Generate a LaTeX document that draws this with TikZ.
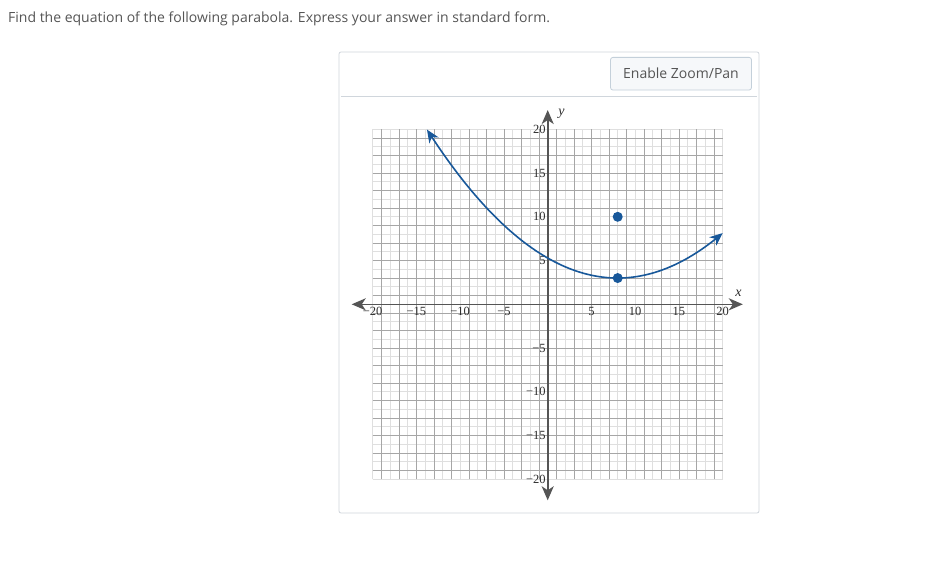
\documentclass[tikz,border=0pt]{standalone}
\usepackage{fontspec}
\setmainfont{Open Sans}
\newfontfamily\tickfont{Liberation Serif}
\usetikzlibrary{arrows.meta}
\definecolor{plotblue}{RGB}{24,88,154}
\definecolor{axisgray}{RGB}{85,85,85}
\definecolor{panelborder}{RGB}{208,214,220}
\definecolor{btnborder}{RGB}{196,208,218}
\definecolor{btnfill}{RGB}{246,248,250}
\definecolor{txtgray}{RGB}{85,85,85}
\definecolor{ticklab}{RGB}{45,45,45}
\tikzset{
  axisline/.style={axisgray, line width=1.6pt, {Stealth[length=14pt,width=12pt,inset=4pt]}-{Stealth[length=14pt,width=12pt,inset=4pt]}},
  curveline/.style={plotblue, line width=1.6pt, {Stealth[length=13pt,width=11pt,inset=4pt]}-{Stealth[length=13pt,width=11pt,inset=4pt]}},
  gridlight/.style={draw=gray!25, line width=1.2pt},
  griddark/.style={draw=gray!70, line width=0.5pt},
  xtick/.style={font=\tickfont\fontsize{12.5}{13}\selectfont, text=ticklab, anchor=north, inner sep=1pt},
  ytick/.style={font=\tickfont\fontsize{12.5}{13}\selectfont, text=ticklab, anchor=east, inner sep=1pt},
  dotmark/.style={circle, fill=plotblue, inner sep=0pt, minimum size=10pt},
  axislabel/.style={font=\tickfont\itshape\fontsize{14}{14}\selectfont, text=ticklab, inner sep=0pt}
}
\begin{document}
\begin{tikzpicture}[x=1pt,y=-1pt]
\useasboundingbox (0,0) rectangle (942,565);
\fill[white] (0,0) rectangle (942,565);
% question
\node[anchor=base west, inner sep=0pt, text=txtgray, font=\fontsize{14}{16}\selectfont] (question) at (8,22) {Find the equation of the following parabola. Express your answer in standard form.};
% panel
\draw[panelborder, line width=0.8pt, rounded corners=2pt] (339,52) rectangle (759,513);
\draw[panelborder, line width=0.8pt] (341,96.7) -- (757,96.7);
\node[draw=btnborder, fill=btnfill, rounded corners=2.5pt, line width=0.8pt, minimum width=141pt, minimum height=32.7pt, inner sep=0pt, text=txtgray, font=\fontsize{14}{16}\selectfont] (button) at (681,73.7) {Enable Zoom/Pan};
% plot
\begin{scope}[shift={(547.7,304.3)}, x=8.75pt, y=8.75pt]
  \foreach \k in {-20,-18,...,20} {
    \draw[gridlight] (\k,-20) -- (\k,20);
    \draw[gridlight] (-20,\k) -- (20,\k);
  }
  \foreach \k in {-19,-17,...,19} {
    \draw[griddark] (\k,-20) -- (\k,20);
    \draw[griddark] (-20,\k) -- (20,\k);
  }
  \coordinate (xl) at (-22.4,0);
  \coordinate (xr) at (22.3,0);
  \coordinate (yb) at (0,-22.4);
  \coordinate (yt) at (0,22.2);
  \draw[axisline] (xl) -- (xr);
  \draw[axisline] (yb) -- (yt);
  \foreach \v in {-20,-15,-10,-5,5,10,15,20} {
    \node[xtick] (xt\v) at (\v,-0.2) {\ifnum\v<0 −\number\numexpr-\v\relax\else\v\fi};
  }
  \foreach \v in {-20,-15,-10,-5,5,10,15,20} {
    \node[ytick] (yt\v) at (-0.1,\v) {\ifnum\v<0 −\number\numexpr-\v\relax\else\v\fi};
  }
  \node[axislabel, anchor=west] (ylab) at (1.2,21.8) {y};
  \node[axislabel, anchor=south] (xlab) at (21.8,0.9) {x};
  \draw[curveline, domain=-13.8:20, samples=80, smooth] plot (\x, {(\x-8)*(\x-8)/28+3});
  \node[dotmark] (vertex) at (8,3) {};
  \node[dotmark] (focus) at (8,10) {};
\end{scope}
\end{tikzpicture}
\end{document}
